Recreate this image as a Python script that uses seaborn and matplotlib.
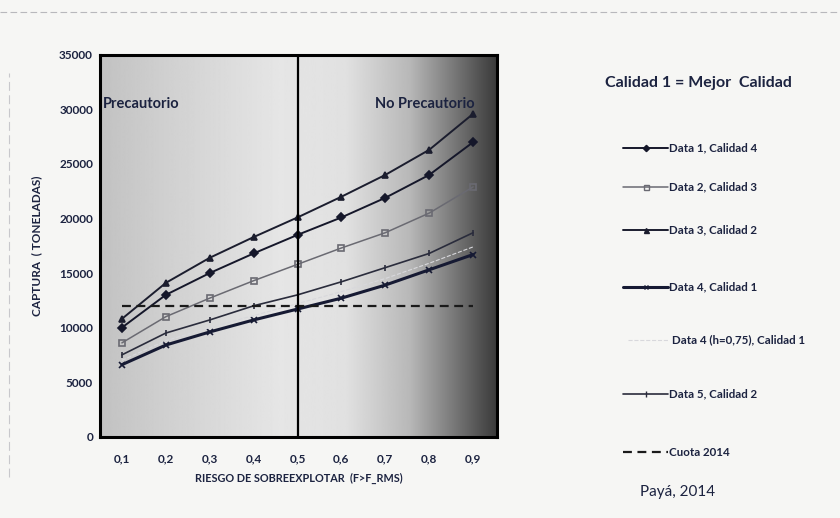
import numpy as np
import pandas as pd
import seaborn as sns
import matplotlib.pyplot as plt
from matplotlib.lines import Line2D

# riesgo de sobreexplotar (x axis)
riesgo = [0.1, 0.2, 0.3, 0.4, 0.5, 0.6, 0.7, 0.8, 0.9]
x_labels = ['0,1', '0,2', '0,3', '0,4', '0,5', '0,6', '0,7', '0,8', '0,9']

# captura (toneladas)
data1_cal4 = [10000, 13000, 15000, 16800, 18500, 20100, 21900, 24000, 27000]
data2_cal3 = [8600, 11000, 12700, 14300, 15800, 17300, 18700, 20500, 22900]
data3_cal2 = [10800, 14100, 16400, 18300, 20100, 22000, 24000, 26300, 29600]
data4_cal1 = [6600, 8400, 9600, 10700, 11700, 12700, 13900, 15300, 16700]
data4_h075 = [7000, 8800, 10000, 11100, 12200, 13300, 14500, 15900, 17400]
data5_cal2 = [7500, 9500, 10700, 12000, 13000, 14200, 15500, 16800, 18700]
cuota_2014 = [12000, 12000, 12000, 12000, 12000, 12000, 12000, 12000, 12000]

y_ticks = [0, 5000, 10000, 15000, 20000, 25000, 30000, 35000]

series = [
    ('Data 1, Calidad 4', data1_cal4, 'D', '#15172a', '#15172a', '-', 1.4, 4),
    ('Data 2, Calidad 3', data2_cal3, 's', '#6a6a72', 'none', '-', 1.1, 4.5),
    ('Data 3, Calidad 2', data3_cal2, '^', '#1b1d2e', '#1b1d2e', '-', 1.4, 4.5),
    ('Data 4, Calidad 1', data4_cal1, 'x', '#161a33', '#161a33', '-', 2.2, 4),
    ('Data 4 (h=0,75), Calidad 1', data4_h075, '', '#d8d8dc', '#d8d8dc', '--', 0.8, 0),
    ('Data 5, Calidad 2', data5_cal2, '|', '#2a2c3c', '#2a2c3c', '-', 1.2, 5),
    ('Cuota 2014', cuota_2014, '', '#1a1a1a', '#1a1a1a', (0, (4, 2.5)), 1.6, 0),
]

navy = '#1c2340'

sns.set_theme(style="white")
plt.rcParams['font.family'] = ['Lato', 'DejaVu Sans']

fig = plt.figure(figsize=(8.4, 5.18), dpi=100, facecolor='#f6f6f4')
ax = fig.add_axes([0.119, 0.157, 0.473, 0.737])

# scanned-looking background: grey on the left, lighter middle, dark right edge
stops_x = [0.0, 0.15, 0.45, 0.62, 0.78, 0.9, 1.0]
stops_v = [0.76, 0.81, 0.90, 0.88, 0.72, 0.45, 0.22]
grad = np.interp(np.linspace(0, 1, 400), stops_x, stops_v)
ax.imshow(grad[np.newaxis, :], extent=[0.05, 0.955, 0, 35000], aspect='auto',
          cmap='gray', vmin=0, vmax=1, zorder=0)

for label, vals, mk, col, mfc, ls, lw, ms in series:
    df = pd.DataFrame({'Riesgo': riesgo, 'Captura': vals})
    sns.lineplot(data=df, x='Riesgo', y='Captura', ax=ax, color=col, linestyle=ls,
                 linewidth=lw, marker=mk if mk else None, markersize=ms,
                 markerfacecolor=mfc, markeredgecolor=col, markeredgewidth=1.2,
                 zorder=3, legend=False)

ax.axvline(0.5, color='black', linewidth=1.6, zorder=4)

ax.set_xlim(0.05, 0.955)
ax.set_ylim(0, 35000)
ax.set_xticks(riesgo)
ax.set_xticklabels(x_labels)
ax.set_yticks(y_ticks)
ax.set_yticklabels([str(v) for v in y_ticks])
ax.tick_params(axis='x', length=0, pad=12, labelsize=8.5, labelcolor=navy)
ax.tick_params(axis='y', length=0, pad=5, labelsize=8.5, labelcolor=navy)
for t in ax.get_xticklabels() + ax.get_yticklabels():
    t.set_fontweight('bold')
for s in ax.spines.values():
    s.set_color('black')
    s.set_linewidth(2.2)

ax.set_xlabel('RIESGO DE SOBREEXPLOTAR  (F>F_RMS)', fontsize=7.8, fontweight='bold',
              color=navy, labelpad=6)
ax.set_ylabel('CAPTURA  ( TONELADAS)', fontsize=8.5, fontweight='bold', color=navy,
              labelpad=12)

ax.text(0.056, 30500, 'Precautorio', fontsize=10.5, fontweight='bold', color=navy,
        va='center', zorder=5)
ax.text(0.677, 30500, 'No Precautorio', fontsize=10.5, fontweight='bold', color=navy,
        va='center', zorder=5)

# legend on the right, entries placed like in the original
leg_y = [0.714, 0.639, 0.556, 0.446, 0.344, 0.239, 0.127]
for (label, vals, mk, col, mfc, ls, lw, ms), yy in zip(series, leg_y):
    x0 = 0.748 if ls == '--' else 0.742
    fig.add_artist(Line2D([x0, 0.795], [yy, yy], color=col, linestyle=ls, linewidth=lw))
    if mk:
        fig.add_artist(Line2D([0.7685], [yy], marker=mk, markersize=ms * 0.8,
                              markerfacecolor=mfc, markeredgecolor=col, color=col))
    tx = 0.800 if ls == '--' else 0.797
    fig.text(tx, yy, label, fontsize=8.3, fontweight='bold', color=navy,
             ha='left', va='center')

fig.text(0.72, 0.84, 'Calidad 1 = Mejor  Calidad', fontsize=11.5, fontweight='bold',
         color=navy, ha='left', va='center')
fig.text(0.762, 0.05, 'Payá, 2014', fontsize=11, color=navy, ha='left', va='center')

# scan border remnants
fig.add_artist(Line2D([0.0, 1.0], [0.977, 0.977], color='#b8b8bc', linewidth=0.8,
                      linestyle=(0, (6, 3))))
fig.add_artist(Line2D([0.011, 0.011], [0.08, 0.86], color='#c8c8cc', linewidth=0.8,
                      linestyle=(0, (8, 4))))

plt.savefig('out.png', dpi=100, facecolor=fig.get_facecolor())
